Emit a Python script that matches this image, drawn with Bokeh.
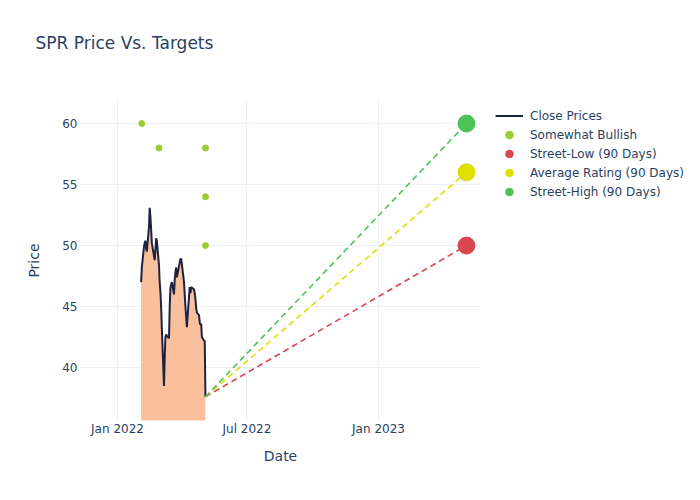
import pandas as pd
from bokeh.plotting import figure
from bokeh.models import (Range1d, FixedTicker, DatetimeTickFormatter, Legend,
                          LegendItem, Title)
from bokeh.embed import file_html
from bokeh.resources import INLINE

# ---------------- data ----------------
close_dates = pd.bdate_range("2022-02-03", "2022-05-04", freq="C",
                             holidays=["2022-02-21", "2022-04-15"])
close_prices = [
    # Feb 2022
    47.0, 48.2, 49.9, 50.2, 50.4, 49.8, 49.5, 51.5, 53.1, 52.4, 51.4, 50.2,
    48.8, 49.6, 50.6, 50.4, 48.4,
    # Mar 2022
    47.0, 46.2, 45.0, 43.2, 38.5, 40.8, 42.5, 42.7, 42.6, 42.4, 45.0, 46.5,
    46.8, 47.0, 46.0, 47.2, 47.8, 48.2, 47.4, 48.3, 48.6, 48.9, 48.9,
    # Apr 2022
    48.5, 47.0, 46.0, 45.0, 44.2, 43.3, 45.8, 46.6, 46.1, 46.6, 46.4, 46.1,
    45.6, 44.9, 44.5, 44.3, 43.7, 43.5, 43.6, 42.5,
    # May 2022
    42.2, 42.2, 37.6,
]
rating_dates = pd.to_datetime(["2022-02-04", "2022-02-28", "2022-05-04",
                               "2022-05-04", "2022-05-04"])
rating_targets = [60, 58, 58, 54, 50]
target_date = pd.Timestamp("2023-05-04")
street_low = 50
average_rating = 56
street_high = 60
x_tick_dates = pd.to_datetime(["2022-01-01", "2022-07-01", "2023-01-01"])
y_ticks = [40, 45, 50, 55, 60]

# ---------------- styling ----------------
FONT = "DejaVu Sans"
TXT = "#2a3f5f"
GRID = "#EBF0F8"
C_LINE = "#1c2340"
C_FILL = "#FABF9D"
C_BULL = "#9ACD32"
C_LOW = "#D6474F"
C_AVG = "#DFDF00"
C_HIGH = "#4CC257"

p = figure(x_axis_type="datetime", output_backend="svg", toolbar_location=None,
           frame_width=400, frame_height=320,
           min_border_left=80, min_border_right=210,
           min_border_top=100, min_border_bottom=70,
           x_range=Range1d(pd.Timestamp("2021-11-10 06:00"), pd.Timestamp("2023-05-23 15:00")),
           y_range=Range1d(35.66, 61.89))
p.outline_line_color = None
p.background_fill_color = "white"

p.varea(x=close_dates, y1=0, y2=close_prices, fill_color=C_FILL, fill_alpha=1)
line_r = p.line(close_dates, close_prices, line_color=C_LINE, line_width=2)

last_date = close_dates[-1]
last_price = close_prices[-1]
for val, col in [(street_low, C_LOW), (average_rating, C_AVG), (street_high, C_HIGH)]:
    p.line([last_date, target_date], [last_price, val], line_color=col,
           line_width=1.6, line_dash="6 4")

bull_r = p.scatter(rating_dates, rating_targets, size=6, color=C_BULL)
low_r = p.scatter([target_date], [street_low], size=17, color=C_LOW)
avg_r = p.scatter([target_date], [average_rating], size=17, color=C_AVG)
high_r = p.scatter([target_date], [street_high], size=17, color=C_HIGH)

# axes
tick_ms = [d.timestamp() * 1000 for d in x_tick_dates]
p.xaxis.ticker = FixedTicker(ticks=tick_ms)
fmt = "%b %Y"
p.xaxis.formatter = DatetimeTickFormatter(days=fmt, months=fmt, years=fmt,
                                          hours=fmt, minutes=fmt)
p.yaxis.ticker = FixedTicker(ticks=y_ticks)
p.xaxis.axis_label = "Date"
p.yaxis.axis_label = "Price"
for ax in (p.xaxis[0], p.yaxis[0]):
    ax.axis_line_color = None
    ax.major_tick_line_color = None
    ax.minor_tick_line_color = None
    ax.major_tick_out = 0
    ax.major_tick_in = 0
    ax.minor_tick_out = 0
    ax.minor_tick_in = 0
    ax.major_label_text_font = FONT
    ax.major_label_text_font_size = "12px"
    ax.major_label_text_color = TXT
    ax.axis_label_text_font = FONT
    ax.axis_label_text_font_size = "14px"
    ax.axis_label_text_font_style = "normal"
    ax.axis_label_text_color = TXT
p.xaxis.major_label_standoff = 1
p.xaxis.axis_label_standoff = 9
p.yaxis.major_label_standoff = 3
p.yaxis.axis_label_standoff = 17

p.xgrid.grid_line_color = GRID
p.ygrid.grid_line_color = GRID
p.xgrid.grid_line_width = 1
p.ygrid.grid_line_width = 1

legend = Legend(items=[
    LegendItem(label="Close Prices", renderers=[line_r]),
    LegendItem(label="Somewhat Bullish", renderers=[bull_r]),
    LegendItem(label="Street-Low (90 Days)", renderers=[low_r]),
    LegendItem(label="Average Rating (90 Days)", renderers=[avg_r]),
    LegendItem(label="Street-High (90 Days)", renderers=[high_r]),
], location=(15, 219))
legend.border_line_color = None
legend.background_fill_alpha = 0
legend.padding = 0
legend.margin = 0
legend.spacing = 0
legend.glyph_width = 28
legend.glyph_height = 19
legend.label_height = 19
legend.label_standoff = 7
legend.label_text_font = FONT
legend.label_text_font_size = "12px"
legend.label_text_color = TXT
p.add_layout(legend, "right")

spacer = Title(text=" ", text_font_size="28px")
p.add_layout(spacer, "above")
title = Title(text="SPR Price Vs. Targets", text_font=FONT,
              text_font_size="17px", text_color=TXT, text_font_style="normal",
              align="left", offset=-45)
p.add_layout(title, "above")

open("out.html", "w").write(file_html(p, INLINE))
